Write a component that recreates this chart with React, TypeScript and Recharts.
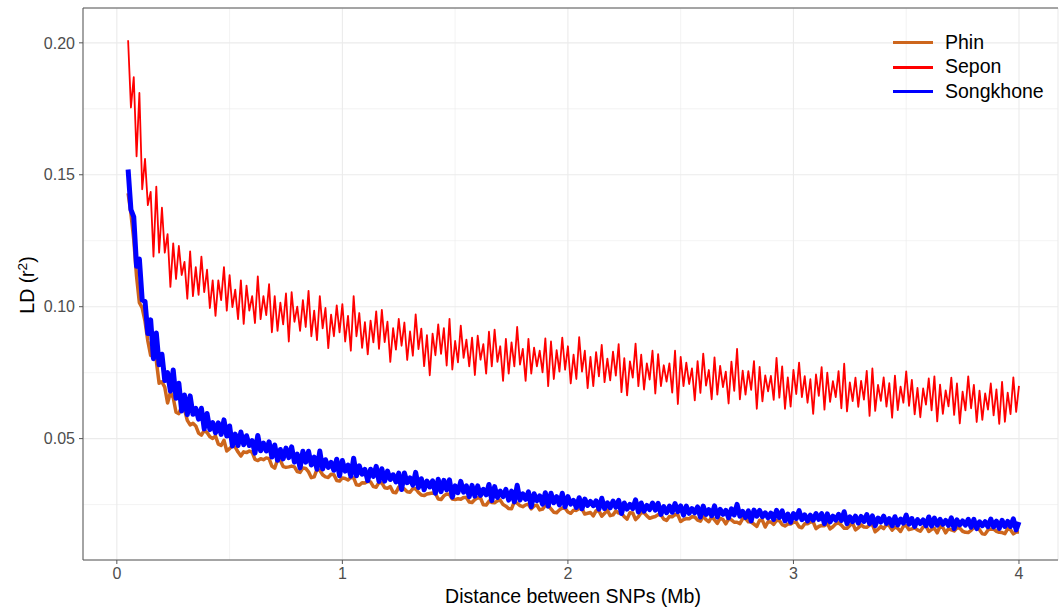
import React from "react";
import { LineChart, Line, XAxis, YAxis, CartesianGrid, ReferenceLine } from "recharts";

const FONT = '"Liberation Sans", Arial, Helvetica, sans-serif';

// distance between SNPs (Mb), first set of readings
const distanceMb = [
  0.05, 0.075, 0.1, 0.125, 0.15, 0.175, 0.2, 0.225, 0.25, 0.275,
  0.3, 0.325, 0.35, 0.375, 0.4, 0.425, 0.45, 0.475, 0.5, 0.525,
  0.55, 0.575, 0.6, 0.625, 0.65, 0.675, 0.7, 0.725, 0.75, 0.775,
  0.8, 0.825, 0.85, 0.875, 0.9, 0.925, 0.95, 0.975, 1, 1.025,
  1.05, 1.075, 1.1, 1.125, 1.15, 1.175, 1.2, 1.225, 1.25, 1.275,
  1.3, 1.325, 1.35, 1.375, 1.4, 1.425, 1.45, 1.475, 1.5, 1.525,
  1.55, 1.575, 1.6, 1.625, 1.65, 1.675, 1.7, 1.725, 1.75, 1.775,
  1.8, 1.825, 1.85, 1.875, 1.9, 1.925, 1.95, 1.975, 2, 2.025,
  2.05, 2.075, 2.1, 2.125, 2.15, 2.175, 2.2, 2.225, 2.25, 2.275,
  2.3, 2.325, 2.35, 2.375, 2.4, 2.425, 2.45, 2.475, 2.5, 2.525,
  2.55, 2.575, 2.6, 2.625, 2.65, 2.675, 2.7, 2.725, 2.75, 2.775,
  2.8, 2.825, 2.85, 2.875, 2.9, 2.925, 2.95, 2.975, 3, 3.025,
  3.05, 3.075, 3.1, 3.125, 3.15, 3.175, 3.2, 3.225, 3.25, 3.275,
  3.3, 3.325, 3.35, 3.375, 3.4, 3.425, 3.45, 3.475, 3.5, 3.525,
  3.55, 3.575, 3.6, 3.625, 3.65, 3.675, 3.7, 3.725, 3.75, 3.775,
  3.8, 3.825, 3.85, 3.875, 3.9, 3.925, 3.95, 3.975, 4,
];

// LD (r^2) per population, first set
const phin = [
  0.143, 0.1255, 0.1015, 0.0945, 0.0815, 0.0795, 0.0715, 0.0635, 0.0655, 0.0595,
  0.061, 0.0552, 0.0548, 0.0513, 0.0523, 0.0501, 0.0479, 0.0494, 0.0462, 0.0468,
  0.0434, 0.0447, 0.0449, 0.0417, 0.042, 0.0424, 0.0388, 0.0417, 0.0391, 0.0396,
  0.0375, 0.0389, 0.0374, 0.0355, 0.038, 0.0355, 0.0365, 0.0341, 0.0351, 0.0343,
  0.0351, 0.0323, 0.0332, 0.0336, 0.0316, 0.0332, 0.0312, 0.0297, 0.0317, 0.0309,
  0.0297, 0.031, 0.0286, 0.029, 0.0294, 0.0271, 0.0283, 0.0288, 0.0269, 0.027,
  0.0277, 0.0258, 0.0276, 0.0249, 0.0263, 0.0257, 0.0267, 0.0244, 0.0234, 0.0255,
  0.0242, 0.0251, 0.0245, 0.023, 0.0247, 0.0234, 0.0219, 0.0237, 0.0222, 0.0229,
  0.0235, 0.0214, 0.022, 0.0227, 0.0206, 0.0229, 0.0211, 0.0218, 0.0204, 0.0219,
  0.0193, 0.022, 0.0207, 0.0202, 0.0212, 0.0195, 0.0205, 0.0212, 0.0186, 0.0197,
  0.0204, 0.0191, 0.0206, 0.0185, 0.0192, 0.0198, 0.0177, 0.0192, 0.0183, 0.0197,
  0.0185, 0.0176, 0.0191, 0.0165, 0.0184, 0.0191, 0.0174, 0.0176, 0.0183, 0.0166,
  0.0177, 0.0184, 0.0159, 0.0171, 0.0179, 0.0166, 0.0181, 0.016, 0.0171, 0.0154,
  0.0173, 0.0164, 0.0175, 0.0156, 0.0159, 0.017, 0.0165, 0.0148, 0.0171, 0.0158,
  0.0154, 0.0165, 0.0148, 0.016, 0.0167, 0.0143, 0.0154, 0.0162, 0.0149, 0.0144,
  0.0164, 0.0155, 0.0138, 0.0157, 0.0149, 0.0144, 0.0159, 0.0139, 0.0146,
];

const sepon = [
  0.201, 0.187, 0.181, 0.156, 0.1435, 0.1455, 0.1375, 0.1275, 0.124, 0.123,
  0.117, 0.121, 0.115, 0.119, 0.114, 0.11, 0.11, 0.115, 0.112, 0.1065,
  0.11, 0.108, 0.104, 0.1115, 0.104, 0.1085, 0.104, 0.1015, 0.105, 0.1055,
  0.1, 0.1025, 0.106, 0.0985, 0.104, 0.0995, 0.097, 0.1005, 0.101, 0.0965,
  0.104, 0.0976, 0.0941, 0.0947, 0.0982, 0.0988, 0.0943, 0.0919, 0.0954, 0.094,
  0.0906, 0.0971, 0.0917, 0.0892, 0.0898, 0.0933, 0.0919, 0.0954, 0.087, 0.0928,
  0.0875, 0.0883, 0.089, 0.0858, 0.0905, 0.0913, 0.085, 0.0878, 0.0865, 0.0923,
  0.084, 0.0878, 0.0845, 0.0833, 0.088, 0.0868, 0.0835, 0.0883, 0.085, 0.0818,
  0.0885, 0.0833, 0.081, 0.0828, 0.0855, 0.0803, 0.083, 0.0858, 0.0805, 0.0793,
  0.086, 0.0818, 0.0785, 0.0833, 0.082, 0.0778, 0.0785, 0.0833, 0.081, 0.0788,
  0.0766, 0.0794, 0.0822, 0.076, 0.0808, 0.0776, 0.0754, 0.0792, 0.084, 0.0758,
  0.0756, 0.0794, 0.0772, 0.074, 0.0738, 0.0806, 0.0774, 0.0732, 0.076, 0.0788,
  0.0737, 0.0725, 0.0743, 0.0771, 0.075, 0.0718, 0.0756, 0.0784, 0.0713, 0.0731,
  0.0719, 0.0757, 0.0766, 0.0704, 0.0732, 0.071, 0.0739, 0.0697, 0.0755, 0.0723,
  0.0692, 0.069, 0.0728, 0.0736, 0.0705, 0.0683, 0.0731, 0.0709, 0.0678, 0.0736,
  0.0704, 0.0682, 0.0671, 0.0709, 0.0687, 0.0715, 0.0674, 0.0732, 0.07,
];

const songkhone = [
  0.152, 0.134, 0.118, 0.102, 0.095, 0.09, 0.082, 0.075, 0.076, 0.071,
  0.0665, 0.0662, 0.0615, 0.0615, 0.0595, 0.0561, 0.056, 0.0571, 0.0548, 0.0517,
  0.0525, 0.0511, 0.0492, 0.0512, 0.0483, 0.0488, 0.0476, 0.0459, 0.0464, 0.0469,
  0.0441, 0.0452, 0.0452, 0.043, 0.0453, 0.042, 0.041, 0.0422, 0.0417, 0.04,
  0.0426, 0.0397, 0.0383, 0.0384, 0.0395, 0.0386, 0.0377, 0.0363, 0.0369, 0.037,
  0.0351, 0.0372, 0.0348, 0.0339, 0.034, 0.0346, 0.0342, 0.0344, 0.0321, 0.0338,
  0.0321, 0.0323, 0.0321, 0.0308, 0.0326, 0.0318, 0.0301, 0.0308, 0.0301, 0.0323,
  0.0291, 0.0298, 0.0291, 0.0283, 0.0295, 0.0293, 0.028, 0.0293, 0.028, 0.0266,
  0.0276, 0.0271, 0.0262, 0.0264, 0.0274, 0.0257, 0.0263, 0.0266, 0.0256, 0.0251,
  0.0268, 0.0256, 0.0247, 0.0256, 0.0255, 0.0242, 0.0244, 0.0254, 0.0245, 0.0244,
  0.0235, 0.0241, 0.0244, 0.0231, 0.0245, 0.0232, 0.0228, 0.0234, 0.0251, 0.0224,
  0.0226, 0.0229, 0.0228, 0.0219, 0.0218, 0.0228, 0.0226, 0.0214, 0.0216, 0.0227,
  0.0211, 0.021, 0.0216, 0.0216, 0.0215, 0.0206, 0.0213, 0.0223, 0.0204, 0.0206,
  0.0205, 0.0212, 0.0207, 0.0199, 0.0206, 0.0197, 0.0204, 0.0195, 0.021, 0.0197,
  0.0193, 0.0192, 0.0203, 0.0199, 0.0194, 0.019, 0.02, 0.0192, 0.0188, 0.0194,
  0.0194, 0.0185, 0.0185, 0.0195, 0.0187, 0.019, 0.0186, 0.0196, 0.0184,
];

// second set of readings, taken between the first ones
const distanceMbMid = [
  0.0625, 0.0875, 0.1125, 0.1375, 0.1625, 0.1875, 0.2125, 0.2375, 0.2625, 0.2875,
  0.3125, 0.3375, 0.3625, 0.3875, 0.4125, 0.4375, 0.4625, 0.4875, 0.5125, 0.5375,
  0.5625, 0.5875, 0.6125, 0.6375, 0.6625, 0.6875, 0.7125, 0.7375, 0.7625, 0.7875,
  0.8125, 0.8375, 0.8625, 0.8875, 0.9125, 0.9375, 0.9625, 0.9875, 1.0125, 1.0375,
  1.0625, 1.0875, 1.1125, 1.1375, 1.1625, 1.1875, 1.2125, 1.2375, 1.2625, 1.2875,
  1.3125, 1.3375, 1.3625, 1.3875, 1.4125, 1.4375, 1.4625, 1.4875, 1.5125, 1.5375,
  1.5625, 1.5875, 1.6125, 1.6375, 1.6625, 1.6875, 1.7125, 1.7375, 1.7625, 1.7875,
  1.8125, 1.8375, 1.8625, 1.8875, 1.9125, 1.9375, 1.9625, 1.9875, 2.0125, 2.0375,
  2.0625, 2.0875, 2.1125, 2.1375, 2.1625, 2.1875, 2.2125, 2.2375, 2.2625, 2.2875,
  2.3125, 2.3375, 2.3625, 2.3875, 2.4125, 2.4375, 2.4625, 2.4875, 2.5125, 2.5375,
  2.5625, 2.5875, 2.6125, 2.6375, 2.6625, 2.6875, 2.7125, 2.7375, 2.7625, 2.7875,
  2.8125, 2.8375, 2.8625, 2.8875, 2.9125, 2.9375, 2.9625, 2.9875, 3.0125, 3.0375,
  3.0625, 3.0875, 3.1125, 3.1375, 3.1625, 3.1875, 3.2125, 3.2375, 3.2625, 3.2875,
  3.3125, 3.3375, 3.3625, 3.3875, 3.4125, 3.4375, 3.4625, 3.4875, 3.5125, 3.5375,
  3.5625, 3.5875, 3.6125, 3.6375, 3.6625, 3.6875, 3.7125, 3.7375, 3.7625, 3.7875,
  3.8125, 3.8375, 3.8625, 3.8875, 3.9125, 3.9375, 3.9625, 3.9875,
];

const phinMid = [
  0.1353, 0.1115, 0.0995, 0.087, 0.083, 0.071, 0.0695, 0.0675, 0.06, 0.0622,
  0.0569, 0.0558, 0.0521, 0.0531, 0.0507, 0.051, 0.0474, 0.0453, 0.0473, 0.0449,
  0.045, 0.0453, 0.0421, 0.0424, 0.0427, 0.0396, 0.042, 0.0394, 0.0393, 0.0393,
  0.0372, 0.0387, 0.0352, 0.0383, 0.0363, 0.0353, 0.0363, 0.0339, 0.0349, 0.0353,
  0.0325, 0.0333, 0.0338, 0.0318, 0.0334, 0.0314, 0.0318, 0.0295, 0.0315, 0.0299,
  0.0311, 0.0296, 0.0284, 0.0292, 0.0292, 0.0269, 0.029, 0.0271, 0.0272, 0.0277,
  0.026, 0.0269, 0.0275, 0.0248, 0.0258, 0.0264, 0.025, 0.0235, 0.0261, 0.0246,
  0.0249, 0.0234, 0.0248, 0.0233, 0.0246, 0.0221, 0.023, 0.0236, 0.0217, 0.0228,
  0.0234, 0.0217, 0.0207, 0.0226, 0.0217, 0.0208, 0.0226, 0.0217, 0.0195, 0.0218,
  0.0204, 0.0219, 0.0198, 0.0205, 0.0211, 0.019, 0.0204, 0.0211, 0.0193, 0.0196,
  0.0203, 0.0187, 0.0193, 0.0204, 0.0179, 0.0194, 0.0196, 0.0183, 0.0178, 0.0197,
  0.0184, 0.0167, 0.019, 0.0185, 0.0175, 0.019, 0.0169, 0.0176, 0.0183, 0.0162,
  0.0177, 0.0184, 0.0167, 0.017, 0.0158, 0.0177, 0.0172, 0.016, 0.0179, 0.0162,
  0.0165, 0.0172, 0.0147, 0.0167, 0.0174, 0.0153, 0.016, 0.0168, 0.0155, 0.0162,
  0.0149, 0.0169, 0.0156, 0.0143, 0.0163, 0.0159, 0.015, 0.0161, 0.0145, 0.0152,
  0.0163, 0.0139, 0.0154, 0.0157, 0.0145, 0.014, 0.0155, 0.0146,
];

const seponMid = [
  0.1755, 0.157, 0.1445, 0.1385, 0.119, 0.1205, 0.1205, 0.1075, 0.1105, 0.112,
  0.103, 0.104, 0.1045, 0.1055, 0.0995, 0.0965, 0.1025, 0.0985, 0.0998, 0.0953,
  0.0935, 0.0985, 0.0938, 0.0953, 0.0968, 0.0903, 0.0908, 0.0933, 0.0868, 0.0943,
  0.0908, 0.0923, 0.0888, 0.0873, 0.0918, 0.0843, 0.0888, 0.0903, 0.0868, 0.0833,
  0.0888, 0.0844, 0.0819, 0.0865, 0.084, 0.0866, 0.0791, 0.0837, 0.0852, 0.0798,
  0.0814, 0.0839, 0.0775, 0.074, 0.0816, 0.0821, 0.0777, 0.0762, 0.0789, 0.0806,
  0.0774, 0.0741, 0.0799, 0.0746, 0.0774, 0.0791, 0.0719, 0.0746, 0.0774, 0.0781,
  0.0719, 0.0746, 0.0774, 0.0751, 0.0699, 0.0726, 0.0754, 0.0761, 0.0709, 0.0726,
  0.0754, 0.0691, 0.0699, 0.0736, 0.0714, 0.0721, 0.0739, 0.0676, 0.0664, 0.0731,
  0.0699, 0.0686, 0.0724, 0.0671, 0.0699, 0.0716, 0.0674, 0.0631, 0.0699, 0.0707,
  0.0645, 0.0673, 0.0701, 0.0649, 0.0667, 0.0695, 0.0633, 0.0681, 0.0649, 0.0667,
  0.0685, 0.0613, 0.0641, 0.0679, 0.0647, 0.0655, 0.0613, 0.0621, 0.0669, 0.0657,
  0.0636, 0.0594, 0.0662, 0.061, 0.0639, 0.0657, 0.0615, 0.0603, 0.0642, 0.062,
  0.0648, 0.0586, 0.0605, 0.0643, 0.0621, 0.0579, 0.0608, 0.0636, 0.0624, 0.0592,
  0.0581, 0.0629, 0.0607, 0.0565, 0.0594, 0.0622, 0.059, 0.0558, 0.0607, 0.0615,
  0.0563, 0.0571, 0.061, 0.0588, 0.0556, 0.0564, 0.0593, 0.0601,
];

const songkhoneMid = [
  0.1368, 0.1153, 0.1025, 0.0898, 0.0803, 0.078, 0.072, 0.068, 0.0653, 0.0605,
  0.0591, 0.0592, 0.0574, 0.0537, 0.0534, 0.0522, 0.0516, 0.051, 0.0472, 0.0474,
  0.0477, 0.0474, 0.0445, 0.0454, 0.0453, 0.043, 0.0418, 0.0423, 0.0428, 0.0411,
  0.0389, 0.0411, 0.04, 0.0384, 0.0385, 0.0391, 0.038, 0.0359, 0.0377, 0.0358,
  0.0359, 0.0365, 0.0341, 0.0357, 0.0338, 0.0339, 0.0345, 0.0336, 0.0307, 0.0333,
  0.0324, 0.0315, 0.0306, 0.0317, 0.0293, 0.0299, 0.0306, 0.0278, 0.0295, 0.0297,
  0.028, 0.0282, 0.0285, 0.0287, 0.0265, 0.0277, 0.028, 0.0267, 0.026, 0.0267,
  0.027, 0.0242, 0.0265, 0.0252, 0.0244, 0.0257, 0.0249, 0.0242, 0.0252, 0.0239,
  0.0234, 0.0247, 0.0246, 0.0233, 0.0235, 0.0238, 0.024, 0.0216, 0.0233, 0.0235,
  0.0222, 0.0225, 0.0231, 0.0229, 0.0213, 0.0219, 0.0221, 0.0223, 0.021, 0.0217,
  0.0219, 0.0203, 0.0213, 0.0208, 0.0203, 0.0213, 0.02, 0.0211, 0.0206, 0.0201,
  0.0188, 0.0206, 0.0204, 0.02, 0.0194, 0.0201, 0.0188, 0.0183, 0.0197, 0.0193,
  0.0188, 0.0191, 0.0194, 0.0178, 0.0184, 0.0191, 0.019, 0.0178, 0.0185, 0.018,
  0.0186, 0.0178, 0.017, 0.0184, 0.0179, 0.017, 0.0173, 0.018, 0.0176, 0.0167,
  0.0178, 0.017, 0.0169, 0.0172, 0.0175, 0.0171, 0.0159, 0.0173, 0.0172, 0.0164,
  0.0159, 0.017, 0.0166, 0.0165, 0.016, 0.0167, 0.0167, 0.0154,
];

const xTicks = [0, 1, 2, 3, 4];
const yTicks = [0.05, 0.1, 0.15, 0.2];
const xMinor = [0.5, 1.5, 2.5, 3.5];
const yMinor = [0.025, 0.075, 0.125, 0.175];

const series = [
  { key: "phin", name: "Phin", color: "#CD661D", width: 3.5 },
  { key: "sepon", name: "Sepon", color: "#FF0000", width: 1.8 },
  { key: "songkhone", name: "Songkhone", color: "#0000FF", width: 5 },
];

const data = [
  ...distanceMb.map((d, i) => ({ d, phin: phin[i], sepon: sepon[i], songkhone: songkhone[i] })),
  ...distanceMbMid.map((d, i) => ({
    d,
    phin: phinMid[i],
    sepon: seponMid[i],
    songkhone: songkhoneMid[i],
  })),
].sort((a, b) => a.d - b.d);

const X_DOMAIN: [number, number] = [-0.15, 4.173];
const Y_DOMAIN: [number, number] = [0.004, 0.2132];

const tickStyle = { fill: "#4d4d4d", fontSize: 16, fontFamily: FONT };

export default function App() {
  return (
    <div
      style={{
        position: "absolute",
        left: 0,
        top: 0,
        width: 1059,
        height: 608,
        background: "#fff",
        fontFamily: FONT,
        overflow: "hidden",
      }}
    >
      <LineChart
        width={1059}
        height={608}
        data={data}
        margin={{ top: 8, right: 1, bottom: 0, left: 8 }}
      >
        <CartesianGrid
          stroke="#ebebeb"
          strokeWidth={0.6}
          horizontalValues={yMinor}
          verticalValues={xMinor}
        />
        <CartesianGrid stroke="#ebebeb" strokeWidth={1.1} />
        <ReferenceLine y={Y_DOMAIN[1]} stroke="#555" strokeWidth={1} />
        <XAxis
          dataKey="d"
          type="number"
          domain={X_DOMAIN}
          ticks={xTicks}
          allowDataOverflow
          height={48}
          tickSize={4}
          tickMargin={4}
          stroke="#555"
          tick={tickStyle}
        />
        <YAxis
          type="number"
          domain={Y_DOMAIN}
          ticks={yTicks}
          allowDataOverflow
          width={75}
          tickSize={4}
          tickMargin={4}
          stroke="#555"
          tick={tickStyle}
          tickFormatter={(v: number) => v.toFixed(2)}
        />
        {series.map((s) => (
          <Line
            key={s.key}
            type="linear"
            dataKey={s.key}
            name={s.name}
            stroke={s.color}
            strokeWidth={s.width}
            strokeLinejoin="round"
            dot={false}
            activeDot={false}
            isAnimationActive={false}
          />
        ))}
      </LineChart>

      {/* legend */}
      {series.map((s, i) => (
        <div
          key={s.key}
          style={{
            position: "absolute",
            left: 893,
            top: 33 + i * 24.3,
            height: 19.5,
            display: "flex",
            alignItems: "center",
            fontSize: 19.5,
            lineHeight: 1,
            color: "#000",
          }}
        >
          <span style={{ display: "inline-block", width: 40, height: 3, background: s.color }} />
          <span style={{ marginLeft: 12 }}>{s.name}</span>
        </div>
      ))}

      {/* axis titles */}
      <div
        style={{
          position: "absolute",
          left: 373,
          width: 400,
          top: 586.5,
          textAlign: "center",
          fontSize: 19.5,
          lineHeight: 1,
          color: "#000",
        }}
      >
        Distance between SNPs (Mb)
      </div>
      <div
        style={{
          position: "absolute",
          left: 28,
          top: 285,
          transform: "translate(-50%, -50%) rotate(-90deg)",
          whiteSpace: "nowrap",
          fontSize: 19.5,
          lineHeight: 1,
          color: "#000",
        }}
      >
        LD (r<sup style={{ fontSize: "0.7em", lineHeight: 0 }}>2</sup>)
      </div>
    </div>
  );
}
